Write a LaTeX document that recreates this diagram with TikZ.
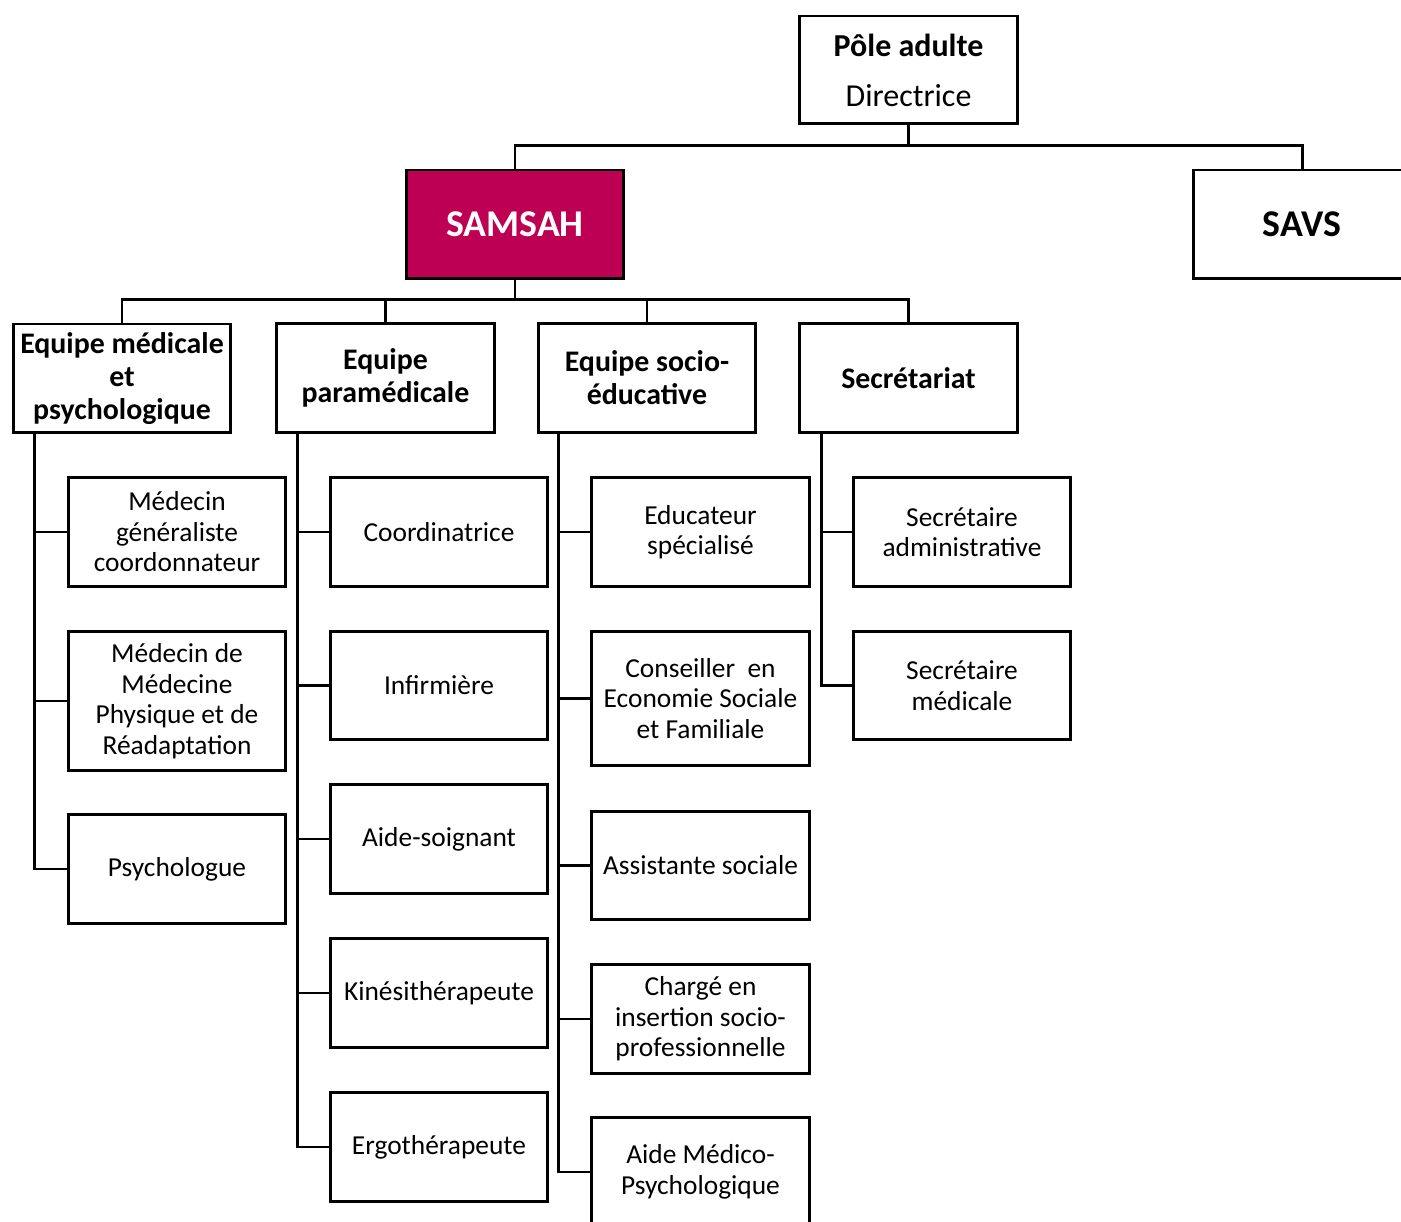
\documentclass[tikz,border=0pt]{standalone}
\usepackage{fontspec}
\setmainfont{Carlito}
\definecolor{samsahred}{RGB}{190,0,84}

\begin{document}
\begin{tikzpicture}[x=0.02cm,y=-0.02cm,
    box/.style={draw,line width=1.7pt,minimum width=4.36cm,minimum height=2.18cm,align=center,inner sep=0pt,font=\fontsize{15.6}{17.4}\selectfont},
    head/.style={box,font=\bfseries\fontsize{17}{18.8}\selectfont},
    unit/.style={box,font=\bfseries\fontsize{21.5}{24}\selectfont},
    link/.style={line width=1.7pt}]
    \useasboundingbox (0,0) rectangle (1401,1222);
    \clip (0,0) rectangle (1401,1222);
    % top
    \node[box,minimum height=2.16cm,font=\fontsize{18.2}{28.4}\selectfont] (pole) at (908.5,70) {\textbf{Pôle adulte}\\Directrice};
    \node[unit,fill=samsahred,text=white] (samsah) at (515,224.5) {SAMSAH};
    \node[unit] (savs) at (1302,224.5) {SAVS};
    \coordinate (rail1) at (908.5,146);
    \draw[link] (pole.south) -- (rail1);
    \draw[link] (samsah.north) |- (rail1) -| (savs.north);
    % teams
    \node[head] (h1) at (122,378.5) {Equipe médicale\\et\\psychologique};
    \node[head] (h2) at (385.5,378) {Equipe\\paramédicale};
    \node[head] (h3) at (647,378) {Equipe socio-\\éducative};
    \node[head] (h4) at (908.5,378) {Secrétariat};
    \coordinate (rail2) at (515,300);
    \draw[link] (samsah.south) -- (rail2);
    \draw[link] (h1.north) |- (rail2) -| (h4.north);
    \draw[link] (h2.north) -- (h2.north |- rail2);
    \draw[link] (h3.north) -- (h3.north |- rail2);
    % staff
    \node[box] (c11) at (177,532) {Médecin\\généraliste\\coordonnateur};
    \node[box,minimum height=2.8cm] (c12) at (177,701) {Médecin de\\Médecine\\Physique et de\\Réadaptation};
    \node[box] (c13) at (177,869) {Psychologue};
    \node[box] (c21) at (439,532) {Coordinatrice};
    \node[box] (c22) at (439,685.5) {Infirmière};
    \node[box] (c23) at (439,839) {Aide-soignant};
    \node[box] (c24) at (439,993) {Kinésithérapeute};
    \node[box] (c25) at (439,1147) {Ergothérapeute};
    \node[box] (c31) at (700.5,532) {Educateur\\spécialisé};
    \node[box,minimum height=2.7cm] (c32) at (700.5,698.5) {Conseiller\ \ en\\Economie Sociale\\et Familiale};
    \node[box] (c33) at (700.5,865.5) {Assistante sociale};
    \node[box] (c34) at (700.5,1019) {Chargé en\\insertion socio-\\professionnelle};
    \node[box] (c35) at (700.5,1172) {Aide Médico-\\Psychologique};
    \node[box] (c41) at (962,532) {Secrétaire\\administrative};
    \node[box] (c42) at (962,685.5) {Secrétaire\\médicale};
    \foreach \c in {c11,c12,c13}
        \draw[link] ([xshift=0.46cm]h1.south west) |- (\c.west);
    \foreach \c in {c21,c22,c23,c24,c25}
        \draw[link] ([xshift=0.44cm]h2.south west) |- (\c.west);
    \foreach \c in {c31,c32,c33,c34,c35}
        \draw[link] ([xshift=0.44cm]h3.south west) |- (\c.west);
    \foreach \c in {c41,c42}
        \draw[link] ([xshift=0.46cm]h4.south west) |- (\c.west);
\end{tikzpicture}
\end{document}
